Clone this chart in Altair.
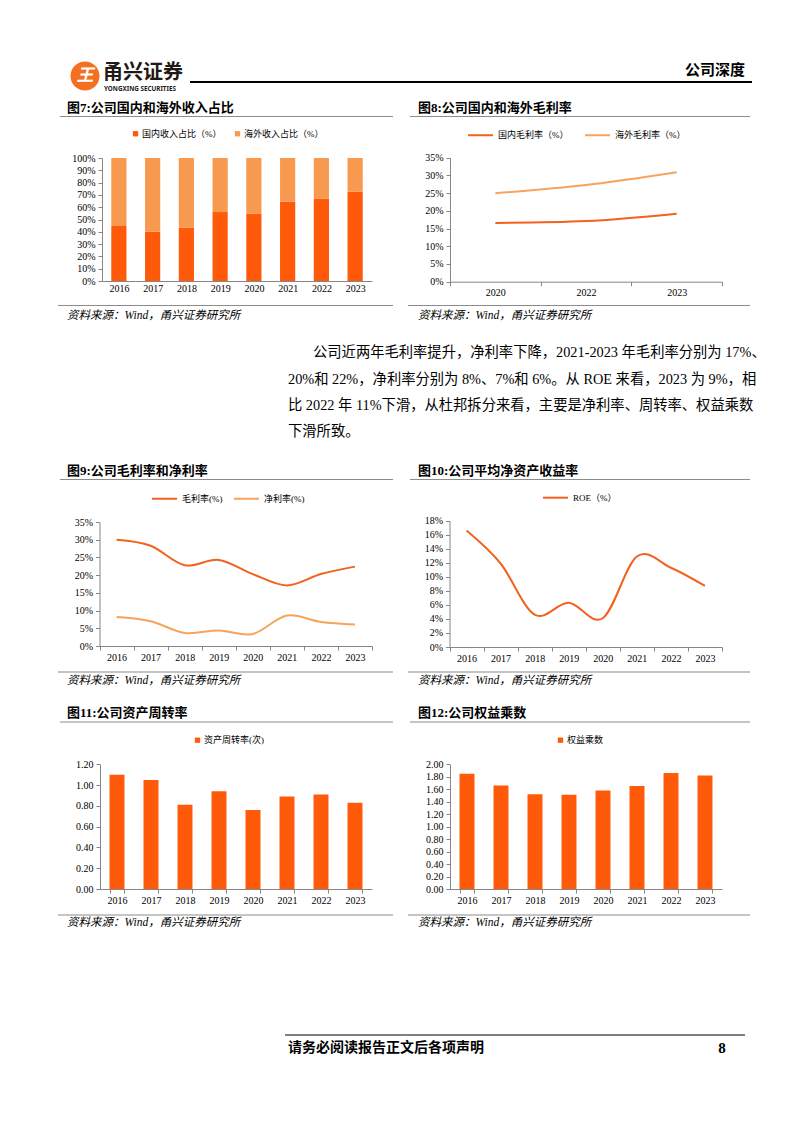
import altair as alt
import pandas as pd

# ---------------- data ----------------
years = ["2016", "2017", "2018", "2019", "2020", "2021", "2022", "2023"]

fig7_series = ["国内收入占比（%）", "海外收入占比（%）"]
dom_share = [44.8, 40.2, 43.5, 56.0, 54.6, 64.7, 66.8, 72.8]
ovs_share = [55.2, 59.8, 56.5, 44.0, 45.4, 35.3, 33.2, 27.2]

fig8_years = ["2020", "2022", "2023"]
fig8_series = ["国内毛利率（%）", "海外毛利率（%）"]
dom_gm = [16.6, 17.1, 19.2]
ovs_gm = [25.0, 27.3, 30.9]

fig9_series = ["毛利率(%)", "净利率(%)"]
gross_margin = [30.0, 28.3, 22.8, 24.3, 20.3, 17.1, 20.3, 22.4]
net_margin = [8.2, 7.0, 3.7, 4.4, 3.4, 8.6, 6.8, 6.1]

fig10_series = ["ROE（%）"]
roe = [16.6, 11.9, 4.6, 6.3, 4.1, 12.9, 11.3, 8.7]

fig11_series = ["资产周转率(次)"]
asset_turnover = [1.10, 1.05, 0.81, 0.94, 0.76, 0.89, 0.91, 0.83]

fig12_series = ["权益乘数"]
equity_multiplier = [1.85, 1.66, 1.52, 1.51, 1.58, 1.65, 1.86, 1.82]

# ---------------- styling / layout helpers ----------------
W, H = 786, 1117
OFF = 8
CJK = "'Noto Sans CJK SC'"
SERIF = "'Liberation Serif'"
MIX = "'Liberation Serif', 'Noto Sans CJK SC'"
BAR_DARK = "#FF5A0A"
BAR_LIGHT = "#F79A4F"
LINE_DARK = "#F2611D"
LINE_LIGHT = "#F7A35C"
AXIS_GRAY = "#868686"

def px(v):
    return v - OFF

one = pd.DataFrame({"k": [0]})

def label(x, y, s, size=12, weight="normal", color="#000000", font=MIX,
          align="left", style="normal"):
    return alt.Chart(one).mark_text(
        text=s, fontSize=size, fontWeight=weight, color=color, font=font,
        align=align, baseline="middle", fontStyle=style
    ).encode(x=alt.value(px(x)), y=alt.value(px(y)))

def hline(x1, x2, y, color, w):
    return alt.Chart(one).mark_rule(color=color, strokeWidth=w).encode(
        x=alt.value(px(x1)), x2=alt.value(px(x2)), y=alt.value(px(y)))

AX = dict(domainColor=AXIS_GRAY, tickColor=AXIS_GRAY, labelColor="#000000",
          labelFont=SERIF, labelFontSize=10, grid=False, title=None,
          tickSize=4, labelOverlap=False)

def xaxis(y_px, ticks=True):
    return alt.Axis(orient="bottom", offset=px(y_px) - H, labelAngle=0,
                    labelPadding=2, tickBand="extent", ticks=ticks, **AX)

def yaxis(x_px, values, expr):
    return alt.Axis(orient="left", offset=-px(x_px), values=values,
                    labelExpr=expr, labelPadding=3, **AX)

def leg_square(x, y, colpad=12):
    return alt.Legend(orient="none", legendX=px(x), legendY=px(y) - 5,
                      direction="horizontal", title=None, symbolType="square",
                      symbolSize=28, symbolStrokeWidth=0, labelFont=MIX,
                      labelFontSize=9, labelColor="#000000", labelOffset=2,
                      columnPadding=colpad, padding=0)

def leg_line(x, y, colpad=12):
    return alt.Legend(orient="none", legendX=px(x), legendY=px(y) - 12.5,
                      direction="horizontal", title=None, symbolType="stroke",
                      symbolSize=625, symbolStrokeWidth=2, labelFont=MIX,
                      labelFontSize=9, labelColor="#000000", labelOffset=4,
                      columnPadding=colpad, padding=0)

def band(x0, x1, pin=0.0, pout=0.0):
    return alt.Scale(type="band", range=[px(x0), px(x1)],
                     paddingInner=pin, paddingOuter=pout)

def lin(y0, y1, dmax):
    return alt.Scale(domain=[0, dmax], range=[px(y0), px(y1)], nice=False, zero=True)

pct = "datum.value + '%'"
dec2 = "format(datum.value, '.2f')"

layers = []

# ---------------- header ----------------
layers.append(alt.Chart(one).mark_point(shape="circle", filled=True, size=840,
                                        color="#F37021", opacity=1).encode(
    x=alt.value(px(85)), y=alt.value(px(76))))
layers.append(label(85, 76, "王", size=17, weight="bold", color="#FFFFFF",
                    font=CJK, align="center", style="italic"))
layers.append(label(103, 73, "甬兴证券", size=20, weight="bold", color="#231815", font=CJK))
layers.append(label(104, 89, "YONGXING SECURITIES", size=6.3, weight="bold",
                    color="#231815", font="'Noto Sans'"))
layers.append(hline(190, 752, 82, "#000000", 2))
layers.append(label(745, 70, "公司深度", size=15, weight="bold", font=CJK, align="right"))

# ---------------- panel titles / rules / sources ----------------
titles = [
    (67, 108, "图7:公司国内和海外收入占比"), (418, 108, "图8:公司国内和海外毛利率"),
    (67, 471, "图9:公司毛利率和净利率"), (418, 471, "图10:公司平均净资产收益率"),
    (67, 713, "图11:公司资产周转率"), (418, 713, "图12:公司权益乘数"),
]
for x, y, s in titles:
    layers.append(label(x, y, s, size=13, weight="bold"))
for y in (116.5, 479.5, 722):
    layers.append(hline(60, 393, y, "#8C8C8C", 1))
    layers.append(hline(410, 750, y, "#8C8C8C", 1))
for y in (305.5, 672, 915):
    layers.append(hline(58, 393, y, "#8C8C8C", 1.2))
    layers.append(hline(408, 750, y, "#8C8C8C", 1.2))
for y in (315.5, 680.5, 922.5):
    layers.append(label(67, y, "资料来源：Wind，甬兴证券研究所", size=11.5, style="italic"))
    layers.append(label(418, y, "资料来源：Wind，甬兴证券研究所", size=11.5, style="italic"))

# ---------------- paragraph ----------------
para = [
    (313, 353, "公司近两年毛利率提升，净利率下降，2021-2023 年毛利率分别为 17%、"),
    (288, 380, "20%和 22%，净利率分别为 8%、7%和 6%。从 ROE 来看，2023 为 9%，相"),
    (288, 406, "比 2022 年 11%下滑，从杜邦拆分来看，主要是净利率、周转率、权益乘数"),
    (288, 432, "下滑所致。"),
]
for x, y, s in para:
    layers.append(label(x, y, s, size=14.3))

# ---------------- footer ----------------
layers.append(hline(285, 745, 1035, "#000000", 1))
layers.append(label(288, 1048, "请务必阅读报告正文后各项声明", size=14, weight="bold"))
layers.append(label(722, 1048, "8", size=15, weight="bold", font=SERIF, align="center"))

# ---------------- Fig 7: stacked bars ----------------
df7 = pd.DataFrame({
    "year": years * 2,
    "series": [fig7_series[0]] * len(years) + [fig7_series[1]] * len(years),
    "value": dom_share + ovs_share,
    "ord": [0] * len(years) + [1] * len(years),
})
c7 = alt.Chart(df7).mark_bar().encode(
    x=alt.X("year:N", sort=years, scale=band(102, 372, 0.55, 0.275), axis=xaxis(281, ticks=False)),
    y=alt.Y("value:Q", stack="zero", scale=lin(281, 158, 100),
            axis=yaxis(102, list(range(0, 101, 10)), pct)),
    color=alt.Color("series:N", scale=alt.Scale(domain=fig7_series, range=[BAR_DARK, BAR_LIGHT]),
                    legend=leg_square(131, 134, 11)),
    order=alt.Order("ord:Q"),
)
layers.append(c7)

# ---------------- Fig 8: lines ----------------
df8 = pd.DataFrame({
    "year": fig8_years * 2,
    "series": [fig8_series[0]] * 3 + [fig8_series[1]] * 3,
    "value": dom_gm + ovs_gm,
})
c8 = alt.Chart(df8).mark_line(interpolate="cardinal", strokeWidth=2).encode(
    x=alt.X("year:N", sort=fig8_years, scale=band(450, 722), axis=xaxis(281.7)),
    y=alt.Y("value:Q", scale=lin(281.7, 157.7, 35), axis=yaxis(450, list(range(0, 36, 5)), pct)),
    color=alt.Color("series:N", scale=alt.Scale(domain=fig8_series, range=[LINE_DARK, LINE_LIGHT]),
                    legend=leg_line(467, 134, 12)),
)
layers.append(c8)

# ---------------- Fig 9: lines ----------------
df9 = pd.DataFrame({
    "year": years * 2,
    "series": [fig9_series[0]] * len(years) + [fig9_series[1]] * len(years),
    "value": gross_margin + net_margin,
})
c9 = alt.Chart(df9).mark_line(interpolate="cardinal", strokeWidth=2).encode(
    x=alt.X("year:N", sort=years, scale=band(99.5, 372), axis=xaxis(646)),
    y=alt.Y("value:Q", scale=lin(646, 522, 35), axis=yaxis(99.5, list(range(0, 36, 5)), pct)),
    color=alt.Color("series:N", scale=alt.Scale(domain=fig9_series, range=[LINE_DARK, LINE_LIGHT]),
                    legend=leg_line(151, 497.5, 7)),
)
layers.append(c9)

# ---------------- Fig 10: ROE line ----------------
df10 = pd.DataFrame({"year": years, "series": fig10_series * len(years), "value": roe})
c10 = alt.Chart(df10).mark_line(interpolate="cardinal", strokeWidth=2).encode(
    x=alt.X("year:N", sort=years, scale=band(449.5, 722), axis=xaxis(647)),
    y=alt.Y("value:Q", scale=lin(647, 520.7, 18), axis=yaxis(449.5, list(range(0, 19, 2)), pct)),
    color=alt.Color("series:N", scale=alt.Scale(domain=fig10_series, range=[LINE_DARK]),
                    legend=leg_line(542, 496.7)),
)
layers.append(c10)

# ---------------- Fig 11: bars ----------------
df11 = pd.DataFrame({"year": years, "series": fig11_series * len(years), "value": asset_turnover})
c11 = alt.Chart(df11).mark_bar().encode(
    x=alt.X("year:N", sort=years, scale=band(100, 372, 0.56, 0.28), axis=xaxis(889)),
    y=alt.Y("value:Q", scale=lin(889, 764.3, 1.2),
            axis=yaxis(100, [0, 0.2, 0.4, 0.6, 0.8, 1.0, 1.2], dec2)),
    color=alt.Color("series:N", scale=alt.Scale(domain=fig11_series, range=[BAR_DARK]),
                    legend=leg_square(193, 740.7)),
)
layers.append(c11)

# ---------------- Fig 12: bars ----------------
df12 = pd.DataFrame({"year": years, "series": fig12_series * len(years), "value": equity_multiplier})
c12 = alt.Chart(df12).mark_bar().encode(
    x=alt.X("year:N", sort=years, scale=band(450, 722, 0.56, 0.28), axis=xaxis(889)),
    y=alt.Y("value:Q", scale=lin(889, 764.3, 2.0),
            axis=yaxis(450, [0, 0.2, 0.4, 0.6, 0.8, 1.0, 1.2, 1.4, 1.6, 1.8, 2.0], dec2)),
    color=alt.Color("series:N", scale=alt.Scale(domain=fig12_series, range=[BAR_DARK]),
                    legend=leg_square(556, 740.7)),
)
layers.append(c12)

chart = alt.layer(*layers).resolve_scale(
    x="independent", y="independent", color="independent"
).resolve_axis(
    x="independent", y="independent"
).resolve_legend(
    color="independent"
).properties(
    width=W, height=H, padding=0, background="white",
    autosize=alt.AutoSizeParams(type="none"),
).configure_view(stroke="transparent")

chart.save("out.html", embed_options={"renderer": "svg", "actions": False})
